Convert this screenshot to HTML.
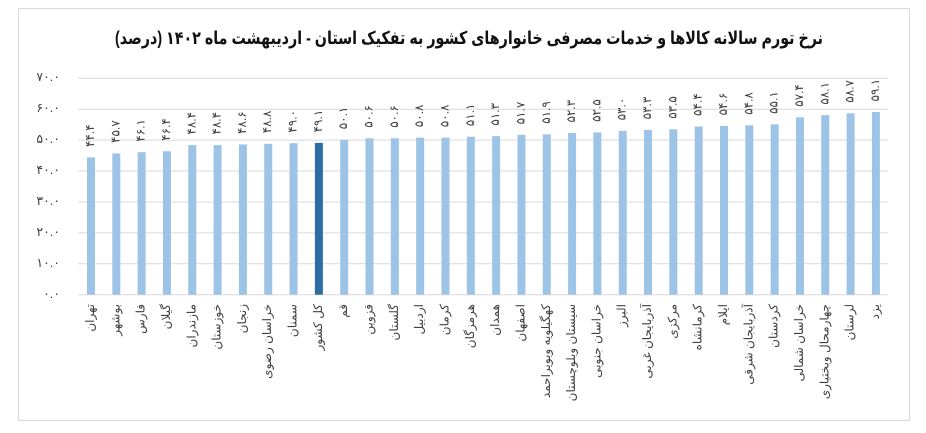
<!DOCTYPE html>
<html>
<head>
<meta charset="utf-8">
<style>
  html,body{margin:0;padding:0;background:#fff;}
  svg{display:block;}
  .t{font-family:"Liberation Sans","DejaVu Sans",sans-serif;}
</style>
</head>
<body>
<svg width="926" height="433" viewBox="0 0 926 433" xmlns="http://www.w3.org/2000/svg">
  <rect x="0" y="0" width="926" height="433" fill="#fff"/>
  <rect x="18.5" y="8.5" width="891" height="412" fill="#fff" stroke="#d9d9d9" stroke-width="1"/>

  <!-- title -->
  <text class="t" x="115" y="38" font-size="18" font-weight="bold" fill="#111" dominant-baseline="central" textLength="708" lengthAdjust="spacingAndGlyphs">نرخ تورم سالانه کالاها و خدمات مصرفی خانوارهای کشور به تفکیک استان - اردیبهشت ماه ۱۴۰۲ (درصد)</text>

  <!-- gridlines -->
  <g stroke="#d9d9d9" stroke-width="1">
    <line x1="78" y1="78.3" x2="888" y2="78.3"/>
    <line x1="78" y1="109.2" x2="888" y2="109.2"/>
    <line x1="78" y1="140.1" x2="888" y2="140.1"/>
    <line x1="78" y1="171.0" x2="888" y2="171.0"/>
    <line x1="78" y1="202.0" x2="888" y2="202.0"/>
    <line x1="78" y1="232.9" x2="888" y2="232.9"/>
    <line x1="78" y1="263.8" x2="888" y2="263.8"/>
    <line x1="78" y1="294.7" x2="888" y2="294.7"/>
  </g>

  <!-- y tick labels -->
  <g class="t" font-size="12.5" fill="#404040" text-anchor="end" dominant-baseline="central">
    <text x="60" y="77">۷۰.۰</text>
    <text x="60" y="108">۶۰.۰</text>
    <text x="60" y="139">۵۰.۰</text>
    <text x="60" y="170">۴۰.۰</text>
    <text x="60" y="201">۳۰.۰</text>
    <text x="60" y="232">۲۰.۰</text>
    <text x="60" y="263">۱۰.۰</text>
    <text x="60" y="294">۰.۰</text>
  </g>

  <!-- bars -->
  <g fill="#9dc3e6">
    <rect x="87.0" y="157.44" width="8" height="137.26"/>
    <rect x="112.32" y="153.42" width="8" height="141.28"/>
    <rect x="137.64" y="152.19" width="8" height="142.51"/>
    <rect x="162.96" y="151.26" width="8" height="143.44"/>
    <rect x="188.28" y="145.08" width="8" height="149.62"/>
    <rect x="213.6" y="145.08" width="8" height="149.62"/>
    <rect x="238.92" y="144.46" width="8" height="150.24"/>
    <rect x="264.24" y="143.84" width="8" height="150.86"/>
    <rect x="289.56" y="143.22" width="8" height="151.48"/>
    <rect x="340.2" y="139.82" width="8" height="154.88"/>
    <rect x="365.52" y="138.28" width="8" height="156.42"/>
    <rect x="390.84" y="138.28" width="8" height="156.42"/>
    <rect x="416.16" y="137.66" width="8" height="157.04"/>
    <rect x="441.48" y="137.66" width="8" height="157.04"/>
    <rect x="466.8" y="136.73" width="8" height="157.97"/>
    <rect x="492.12" y="136.11" width="8" height="158.59"/>
    <rect x="517.44" y="134.87" width="8" height="159.83"/>
    <rect x="542.76" y="134.26" width="8" height="160.44"/>
    <rect x="568.08" y="133.02" width="8" height="161.68"/>
    <rect x="593.4" y="132.40" width="8" height="162.30"/>
    <rect x="618.72" y="130.86" width="8" height="163.84"/>
    <rect x="644.04" y="129.93" width="8" height="164.77"/>
    <rect x="669.36" y="129.31" width="8" height="165.39"/>
    <rect x="694.68" y="126.53" width="8" height="168.17"/>
    <rect x="720.0" y="125.91" width="8" height="168.79"/>
    <rect x="745.32" y="125.29" width="8" height="169.41"/>
    <rect x="770.64" y="124.36" width="8" height="170.34"/>
    <rect x="795.96" y="117.25" width="8" height="177.45"/>
    <rect x="821.28" y="115.09" width="8" height="179.61"/>
    <rect x="846.6" y="113.23" width="8" height="181.47"/>
    <rect x="871.92" y="112.0" width="8" height="182.7"/>
  </g>
  <rect x="314.88" y="142.91" width="8" height="151.79" fill="#2e6da4"/>

  <!-- value labels -->
  <g class="t" font-size="12" fill="#404040" text-anchor="start" dominant-baseline="central">
    <text transform="translate(90,147) rotate(-90)">۴۴.۴</text>
    <text transform="translate(115.3,143) rotate(-90)">۴۵.۷</text>
    <text transform="translate(140.6,141.7) rotate(-90)">۴۶.۱</text>
    <text transform="translate(166,140.8) rotate(-90)">۴۶.۴</text>
    <text transform="translate(191.3,134.6) rotate(-90)">۴۸.۴</text>
    <text transform="translate(216.6,134.6) rotate(-90)">۴۸.۴</text>
    <text transform="translate(241.9,134) rotate(-90)">۴۸.۶</text>
    <text transform="translate(267.2,133.3) rotate(-90)">۴۸.۸</text>
    <text transform="translate(292.6,132.7) rotate(-90)">۴۹.۰</text>
    <text transform="translate(317.9,132.4) rotate(-90)">۴۹.۱</text>
    <text transform="translate(343.2,129.3) rotate(-90)">۵۰.۱</text>
    <text transform="translate(368.5,127.8) rotate(-90)">۵۰.۶</text>
    <text transform="translate(393.8,127.8) rotate(-90)">۵۰.۶</text>
    <text transform="translate(419.2,127.2) rotate(-90)">۵۰.۸</text>
    <text transform="translate(444.5,127.2) rotate(-90)">۵۰.۸</text>
    <text transform="translate(469.8,126.2) rotate(-90)">۵۱.۱</text>
    <text transform="translate(495.1,125.6) rotate(-90)">۵۱.۳</text>
    <text transform="translate(520.4,124.4) rotate(-90)">۵۱.۷</text>
    <text transform="translate(545.8,123.8) rotate(-90)">۵۱.۹</text>
    <text transform="translate(571.1,122.5) rotate(-90)">۵۲.۳</text>
    <text transform="translate(596.4,121.9) rotate(-90)">۵۲.۵</text>
    <text transform="translate(621.7,120.4) rotate(-90)">۵۳.۰</text>
    <text transform="translate(647,119.4) rotate(-90)">۵۳.۳</text>
    <text transform="translate(672.4,118.8) rotate(-90)">۵۳.۵</text>
    <text transform="translate(697.7,116) rotate(-90)">۵۴.۴</text>
    <text transform="translate(723,115.4) rotate(-90)">۵۴.۶</text>
    <text transform="translate(748.3,114.8) rotate(-90)">۵۴.۸</text>
    <text transform="translate(773.6,113.9) rotate(-90)">۵۵.۱</text>
    <text transform="translate(799,106.8) rotate(-90)">۵۷.۴</text>
    <text transform="translate(824.3,104.6) rotate(-90)">۵۸.۱</text>
    <text transform="translate(849.6,102.7) rotate(-90)">۵۸.۷</text>
    <text transform="translate(874.9,101.5) rotate(-90)">۵۹.۱</text>
  </g>

  <!-- category labels -->
  <g class="t" font-size="12" fill="#404040" text-anchor="end" dominant-baseline="central">
    <text transform="translate(90,304) rotate(-90)">تهران</text>
    <text transform="translate(115.3,304) rotate(-90)">بوشهر</text>
    <text transform="translate(140.6,304) rotate(-90)">فارس</text>
    <text transform="translate(166,304) rotate(-90)">گیلان</text>
    <text transform="translate(191.3,304) rotate(-90)">مازندران</text>
    <text transform="translate(216.6,304) rotate(-90)">خوزستان</text>
    <text transform="translate(241.9,304) rotate(-90)">زنجان</text>
    <text transform="translate(267.2,304) rotate(-90)">خراسان رضوی</text>
    <text transform="translate(292.6,304) rotate(-90)">سمنان</text>
    <text transform="translate(317.9,304) rotate(-90)">کل کشور</text>
    <text transform="translate(343.2,304) rotate(-90)">قم</text>
    <text transform="translate(368.5,304) rotate(-90)">قزوین</text>
    <text transform="translate(393.8,304) rotate(-90)">گلستان</text>
    <text transform="translate(419.2,304) rotate(-90)">اردبیل</text>
    <text transform="translate(444.5,304) rotate(-90)">کرمان</text>
    <text transform="translate(469.8,304) rotate(-90)">هرمزگان</text>
    <text transform="translate(495.1,304) rotate(-90)">همدان</text>
    <text transform="translate(520.4,304) rotate(-90)">اصفهان</text>
    <text transform="translate(545.8,304) rotate(-90)">کهگیلویه وبویراحمد</text>
    <text transform="translate(571.1,304) rotate(-90)">سیستان وبلوچستان</text>
    <text transform="translate(596.4,304) rotate(-90)">خراسان جنوبی</text>
    <text transform="translate(621.7,304) rotate(-90)">البرز</text>
    <text transform="translate(647,304) rotate(-90)">آذربایجان غربی</text>
    <text transform="translate(672.4,304) rotate(-90)">مرکزی</text>
    <text transform="translate(697.7,304) rotate(-90)">کرمانشاه</text>
    <text transform="translate(723,304) rotate(-90)">ایلام</text>
    <text transform="translate(748.3,304) rotate(-90)">آذربایجان شرقی</text>
    <text transform="translate(773.6,304) rotate(-90)">کردستان</text>
    <text transform="translate(799,304) rotate(-90)">خراسان شمالی</text>
    <text transform="translate(824.3,304) rotate(-90)">چهارمحال وبختیاری</text>
    <text transform="translate(849.6,304) rotate(-90)">لرستان</text>
    <text transform="translate(874.9,304) rotate(-90)">یزد</text>
  </g>
</svg>
</body>
</html>
